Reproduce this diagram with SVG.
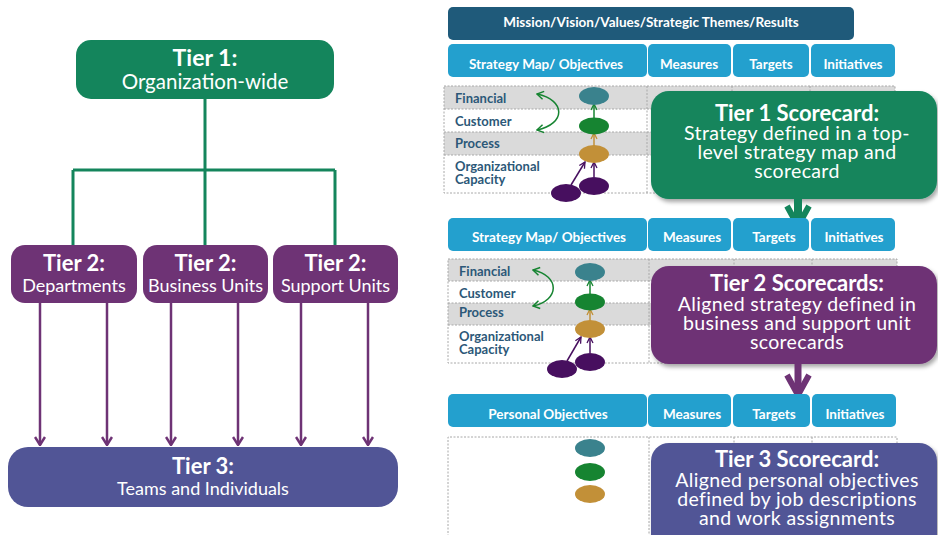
<svg xmlns="http://www.w3.org/2000/svg" width="938" height="535" viewBox="0 0 938 535">
<defs>
<style>
text{font-family:Lato,"Open Sans","Liberation Sans",sans-serif;fill:#fff;text-anchor:middle}
.b{font-weight:bold}
.tree{stroke:#14855C;stroke-width:3;fill:none}
.parr{stroke:#6E3375;stroke-width:2.5;fill:none;marker-end:url(#pv)}
.hdr{fill:#23A0CE}
.ht{font-weight:bold;font-size:13.5px}
.grid{stroke:#A8A8A8;stroke-width:1;stroke-dasharray:2,1.5;fill:none}
.gray{fill:#DADADA}
.lbl{font-weight:bold;font-size:13px;fill:#2C5878;text-anchor:start}
.teal{fill:#3A828D}.grn{fill:#168431}.gold{fill:#C29038}.pur{fill:#470F5F}
.ca{stroke:#168431;stroke-width:1.5;fill:none;marker-start:url(#ga);marker-end:url(#ga)}
.sa{stroke-width:1.5;fill:none}
.st{font-size:22px;font-weight:bold}
.sl{font-size:19.5px;letter-spacing:0.35px}
</style>
<marker id="pv" viewBox="0 0 10 12" refX="9" refY="6" markerWidth="10" markerHeight="12" markerUnits="userSpaceOnUse" orient="auto">
<path d="M1,1 L9,6 L1,11" fill="none" stroke="#6E3375" stroke-width="2.5"/>
</marker>
<marker id="ga" viewBox="0 0 10 10" refX="8.5" refY="5" markerWidth="10" markerHeight="10" markerUnits="userSpaceOnUse" orient="auto-start-reverse">
<path d="M2,1 L8.5,5 L2,9" fill="none" stroke="#168431" stroke-width="1.5"/>
</marker>
<marker id="sgG" viewBox="0 0 8 8" refX="7" refY="4" markerWidth="8" markerHeight="8" markerUnits="userSpaceOnUse" orient="auto">
<path d="M1,1 L7,4 L1,7" fill="none" stroke="#168431" stroke-width="1.3"/>
</marker>
<marker id="sgY" viewBox="0 0 8 8" refX="7" refY="4" markerWidth="8" markerHeight="8" markerUnits="userSpaceOnUse" orient="auto">
<path d="M1,1 L7,4 L1,7" fill="none" stroke="#C29038" stroke-width="1.3"/>
</marker>
<marker id="sgP" viewBox="0 0 8 8" refX="7" refY="4" markerWidth="8" markerHeight="8" markerUnits="userSpaceOnUse" orient="auto">
<path d="M1,1 L7,4 L1,7" fill="none" stroke="#470F5F" stroke-width="1.3"/>
</marker>
<filter id="sh" x="-5%" y="-5%" width="115%" height="125%">
<feDropShadow dx="2" dy="3" stdDeviation="2" flood-color="#000" flood-opacity="0.35"/>
</filter>
</defs>

<!-- Left hierarchy connectors -->
<g id="connectors">
<path class="tree" d="M205,99 V170 M73,170 H335 M73,170 V245 M205,170 V245 M335,170 V245"/>
<path class="parr" d="M40,303 V445"/>
<path class="parr" d="M107,303 V445"/>
<path class="parr" d="M171,303 V445"/>
<path class="parr" d="M238,303 V445"/>
<path class="parr" d="M301,303 V445"/>
<path class="parr" d="M368,303 V445"/>
</g>

<g id="tier1">
<rect x="76" y="40" width="258" height="59" rx="15" fill="#14855C"/>
<text x="205" y="66" class="b" font-size="23">Tier 1:</text>
<text x="205" y="89" font-size="20.5">Organization-wide</text>
</g>
<g id="tier2-departments">
<rect x="11" y="245" width="126" height="58" rx="14" fill="#6E3375"/>
<text x="74" y="271" class="b" font-size="22">Tier 2:</text>
<text x="74" y="292" font-size="18">Departments</text>
</g>
<g id="tier2-business">
<rect x="143" y="245" width="125" height="58" rx="14" fill="#6E3375"/>
<text x="205.5" y="271" class="b" font-size="22">Tier 2:</text>
<text x="205.5" y="292" font-size="18">Business Units</text>
</g>
<g id="tier2-support">
<rect x="273" y="245" width="125" height="58" rx="14" fill="#6E3375"/>
<text x="335.5" y="271" class="b" font-size="22">Tier 2:</text>
<text x="335.5" y="292" font-size="18">Support Units</text>
</g>
<g id="tier3">
<rect x="8" y="447" width="390" height="60" rx="20" fill="#515596"/>
<text x="203" y="474" class="b" font-size="22">Tier 3:</text>
<text x="203" y="495" font-size="18">Teams and Individuals</text>
</g>

<!-- Right side -->
<g id="mission">
<rect x="448" y="7" width="406" height="33" rx="5" fill="#1F5A7A"/>
<text x="651" y="27" class="ht">Mission/Vision/Values/Strategic Themes/Results</text>
</g>

<!-- Block 1 -->
<g id="block1-header">
<rect class="hdr" x="448" y="44" width="199" height="33" rx="5"/>
<rect class="hdr" x="648" y="44" width="83" height="33" rx="5"/>
<rect class="hdr" x="733" y="44" width="76" height="33" rx="5"/>
<rect class="hdr" x="811" y="44" width="84" height="33" rx="5"/>
<text x="546" y="69" class="ht">Strategy Map/ Objectives</text>
<text x="689" y="69" class="ht">Measures</text>
<text x="771" y="69" class="ht">Targets</text>
<text x="853" y="69" class="ht">Initiatives</text>
</g>
<g id="block1-table">
<rect class="gray" x="444" y="86" width="451" height="23"/>
<rect class="gray" x="444" y="132" width="451" height="23"/>
<path class="grid" d="M444,86 H895 V193 H444 Z M444,109 H895 M444,132 H895 M444,155 H895 M647,86 V193 M732,86 V193 M810,86 V193"/>
<text x="455" y="103" class="lbl">Financial</text>
<text x="455" y="126" class="lbl">Customer</text>
<text x="455" y="148" class="lbl">Process</text>
<text x="455" y="171" class="lbl">Organizational</text>
<text x="455" y="184" class="lbl">Capacity</text>
<path class="ca" d="M537,94 C566,100 566,124 537,130"/>
<path class="sa" stroke="#168431" marker-end="url(#sgG)" d="M594,118 V104"/>
<path class="sa" stroke="#C29038" marker-end="url(#sgY)" d="M594,146 V133"/>
<path class="sa" stroke="#470F5F" marker-end="url(#sgP)" d="M594,177 V162"/>
<path class="sa" stroke="#470F5F" marker-end="url(#sgP)" d="M571,185 L585,162"/>
<ellipse class="teal" cx="594" cy="96" rx="15" ry="9"/>
<ellipse class="grn" cx="594" cy="126" rx="15" ry="8.5"/>
<ellipse class="gold" cx="594" cy="154" rx="15" ry="9"/>
<ellipse class="pur" cx="594" cy="186" rx="15" ry="9"/>
<ellipse class="pur" cx="566" cy="193" rx="15" ry="9"/>
</g>
<g id="tier1-scorecard">
<rect x="651" y="91" width="286" height="108" rx="18" fill="#14855C" filter="url(#sh)"/>
<text x="797" y="121" class="st">Tier 1 Scorecard:</text>
<text x="797" y="140" class="sl">Strategy defined in a top-</text>
<text x="797" y="159" class="sl">level strategy map and</text>
<text x="797" y="178" class="sl">scorecard</text>
</g>
<g id="arrow-1-2">
<path d="M798,199 V224" stroke="#14855C" stroke-width="8" fill="none"/>
<path d="M787,206 L798,226 L809,206" stroke="#14855C" stroke-width="6" fill="none"/>
</g>

<!-- Block 2 -->
<g id="block2-header">
<rect class="hdr" x="448" y="218" width="199" height="33" rx="5"/>
<rect class="hdr" x="648" y="218" width="83" height="33" rx="5"/>
<rect class="hdr" x="733" y="218" width="76" height="33" rx="5"/>
<rect class="hdr" x="811" y="218" width="84" height="33" rx="5"/>
<text x="549" y="242" class="ht">Strategy Map/ Objectives</text>
<text x="692" y="242" class="ht">Measures</text>
<text x="774" y="242" class="ht">Targets</text>
<text x="854" y="242" class="ht">Initiatives</text>
</g>
<g id="block2-table">
<rect class="gray" x="448" y="259" width="449" height="22"/>
<rect class="gray" x="448" y="303" width="449" height="22"/>
<path class="grid" d="M448,259 H897 V363 H448 Z M448,281 H897 M448,303 H897 M448,325 H897 M649,259 V363 M734,259 V363 M812,259 V363"/>
<text x="459" y="276" class="lbl">Financial</text>
<text x="459" y="298" class="lbl">Customer</text>
<text x="459" y="317" class="lbl">Process</text>
<text x="459" y="341" class="lbl">Organizational</text>
<text x="459" y="354" class="lbl">Capacity</text>
<path class="ca" d="M533,270 C560,276 560,300 533,306"/>
<path class="sa" stroke="#168431" marker-end="url(#sgG)" d="M590,294 V280"/>
<path class="sa" stroke="#C29038" marker-end="url(#sgY)" d="M590,321 V309"/>
<path class="sa" stroke="#470F5F" marker-end="url(#sgP)" d="M590,353 V337"/>
<path class="sa" stroke="#470F5F" marker-end="url(#sgP)" d="M567,361 L581,337"/>
<ellipse class="teal" cx="590" cy="272" rx="15" ry="9"/>
<ellipse class="grn" cx="590" cy="302" rx="15" ry="8.5"/>
<ellipse class="gold" cx="590" cy="329" rx="15" ry="9"/>
<ellipse class="pur" cx="590" cy="362" rx="15" ry="9"/>
<ellipse class="pur" cx="562" cy="369" rx="15" ry="9"/>
</g>
<g id="tier2-scorecards">
<rect x="651" y="266" width="286" height="98" rx="18" fill="#6E3375" filter="url(#sh)"/>
<text x="797" y="291" class="st">Tier 2 Scorecards:</text>
<text x="797" y="311" class="sl">Aligned strategy defined in</text>
<text x="797" y="330" class="sl">business and support unit</text>
<text x="797" y="349" class="sl">scorecards</text>
</g>
<g id="arrow-2-3">
<path d="M798,364 V393" stroke="#6E3375" stroke-width="7" fill="none"/>
<path d="M787,375 L798,395 L809,375" stroke="#6E3375" stroke-width="6" fill="none"/>
</g>

<!-- Block 3 -->
<g id="block3-header">
<rect class="hdr" x="448" y="394" width="199" height="33" rx="5"/>
<rect class="hdr" x="648" y="394" width="83" height="33" rx="5"/>
<rect class="hdr" x="733" y="394" width="77" height="33" rx="5"/>
<rect class="hdr" x="812" y="394" width="84" height="33" rx="5"/>
<text x="548" y="419" class="ht">Personal Objectives</text>
<text x="692" y="419" class="ht">Measures</text>
<text x="774" y="419" class="ht">Targets</text>
<text x="855" y="419" class="ht">Initiatives</text>
</g>
<g id="block3-table">
<path class="grid" d="M448,540 V437 H897 V540 M649,437 V540 M734,437 V540 M812,437 V540"/>
<ellipse class="teal" cx="590" cy="448" rx="15" ry="9"/>
<ellipse class="grn" cx="590" cy="472" rx="15" ry="9"/>
<ellipse class="gold" cx="590" cy="494" rx="15" ry="9"/>
</g>
<g id="tier3-scorecard">
<rect x="651" y="443" width="286" height="110" rx="18" fill="#515596" filter="url(#sh)"/>
<text x="797" y="467" class="st">Tier 3 Scorecard:</text>
<text x="797" y="487" class="sl">Aligned personal objectives</text>
<text x="797" y="506" class="sl">defined by job descriptions</text>
<text x="797" y="525" class="sl">and work assignments</text>
</g>
</svg>
